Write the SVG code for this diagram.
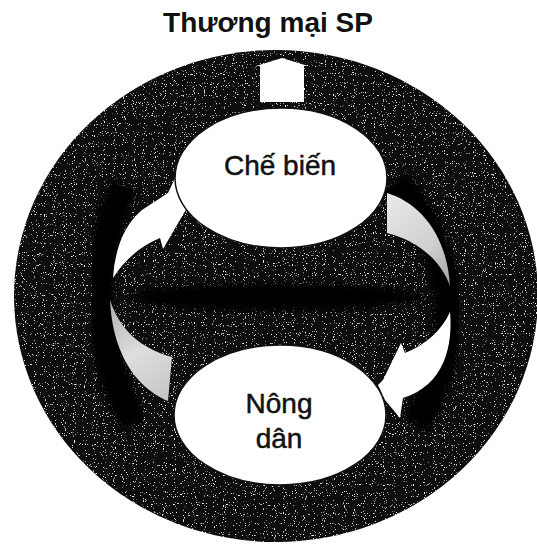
<svg xmlns="http://www.w3.org/2000/svg" width="537" height="544" viewBox="0 0 537 544">
  <defs>
    <filter id="speckle" x="0" y="0" width="100%" height="100%">
      <feTurbulence type="fractalNoise" baseFrequency="0.9" numOctaves="1" seed="3" result="n"/>
      <feColorMatrix in="n" type="matrix" values="0 0 0 0 1  0 0 0 0 1  0 0 0 0 1  10 0 0 0 -6.5" result="dots"/>
      <feComposite in="dots" in2="SourceGraphic" operator="in" result="d2"/>
      <feMerge><feMergeNode in="SourceGraphic"/><feMergeNode in="d2"/></feMerge>
    </filter>
    <filter id="soft" x="-20%" y="-20%" width="140%" height="140%">
      <feGaussianBlur stdDeviation="3"/>
    </filter>
    <linearGradient id="gL" x1="110" y1="300" x2="172" y2="400" gradientUnits="userSpaceOnUse">
      <stop offset="0" stop-color="#b0b0b0"/>
      <stop offset="0.5" stop-color="#dedede"/>
      <stop offset="1" stop-color="#c4c4c4"/>
    </linearGradient>
    <linearGradient id="gR" x1="387" y1="200" x2="450" y2="286" gradientUnits="userSpaceOnUse">
      <stop offset="0" stop-color="#e8e8e8"/>
      <stop offset="0.6" stop-color="#cfcfcf"/>
      <stop offset="1" stop-color="#a0a0a0"/>
    </linearGradient>
  </defs>
  <style>
    .title { font-family: "Liberation Sans", Arial, sans-serif; font-weight: bold; font-size: 28px; fill: #111; }
    .lbl { font-family: "Liberation Sans", Arial, sans-serif; font-size: 28px; fill: #111; stroke: #111; stroke-width: 0.5; }
    .node { fill: #ffffff; stroke: #111; stroke-width: 1.5; }
    .white { fill: #ffffff; }
  </style>
  <rect width="537" height="544" fill="#ffffff"/>
  <text class="title" x="268" y="32" text-anchor="middle">Thương mại SP</text>

  <g id="ring">
    <ellipse cx="276" cy="296" rx="262" ry="246" fill="#0c0c0c" filter="url(#speckle)"/>
    <path d="M125,185 Q70,300 135,425" fill="none" stroke="#000" stroke-width="30" filter="url(#soft)"/>
    <path d="M395,180 Q490,300 415,425" fill="none" stroke="#000" stroke-width="30" filter="url(#soft)"/>
    <ellipse cx="275" cy="297" rx="150" ry="14" fill="#000" filter="url(#soft)"/>
  </g>

  <g id="connectors">
    <polygon class="white" points="260,102 260,66 256,66 282,58 308,66 304,66 304,102"/>
    <path class="white" d="M142,210 L168,193 L176,176 L192,200 L184,213 L163,249 L160,238 Q131,250 113,278 Q116,232 142,210 Z"/>
    <path fill="url(#gL)" d="M110,300 C112,345 130,385 168,401 L172,357 C140,348 120,330 110,300 Z"/>
    <path fill="url(#gR)" d="M387,193 C420,203 447,235 450,286 C440,258 415,240 387,233 Z"/>
    <path class="white" d="M450,312 C453,345 445,385 403,398 L400,418 L385,400 L378,385 L383,380 L401,343 L405,353 Q437,340 450,312 Z"/>
  </g>

  <g id="node-che-bien">
    <ellipse class="node" cx="281" cy="178" rx="106" ry="70"/>
    <text class="lbl" x="280" y="175" text-anchor="middle">Chế biến</text>
  </g>

  <g id="node-nong-dan">
    <ellipse class="node" cx="280" cy="415" rx="106" ry="70"/>
    <text class="lbl" x="279" y="413" text-anchor="middle">Nông</text>
    <text class="lbl" x="279" y="448" text-anchor="middle">dân</text>
  </g>
</svg>
